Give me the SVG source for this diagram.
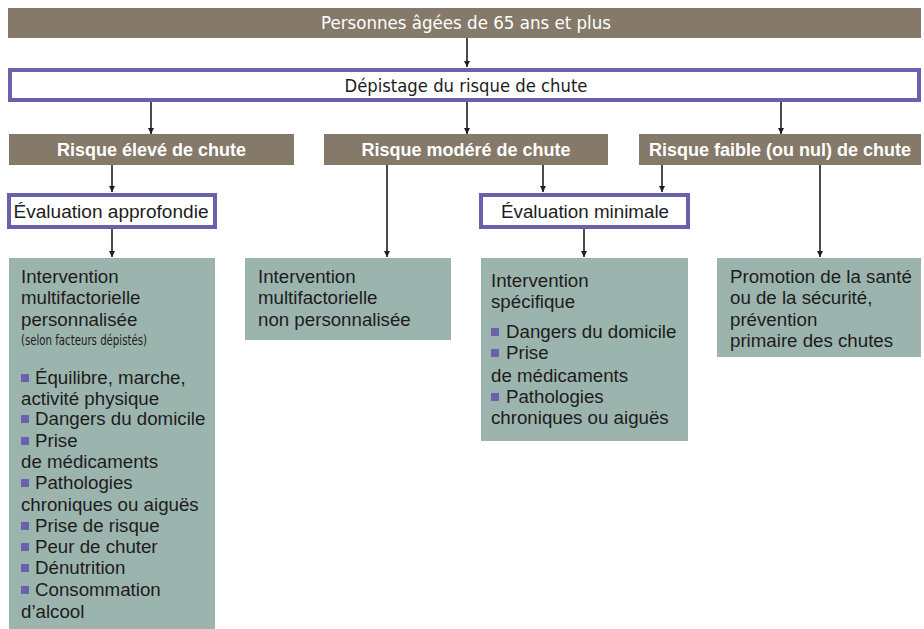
<svg xmlns="http://www.w3.org/2000/svg" width="924" height="629" viewBox="0 0 924 629">
<style>
.brown{fill:#857a69}
.green{fill:#9cb4ae}
.frame{fill:#fff;stroke:#6a61ad;stroke-width:4}
.cond{font-family:"Liberation Sans Narrow","DejaVu Sans Condensed","Liberation Sans",sans-serif;font-stretch:condensed;font-size:18px}
.head{font-family:"Liberation Sans",Arial,sans-serif;font-weight:bold;font-size:18px;fill:#fff}
.body{font-family:"Liberation Sans",Arial,sans-serif;font-size:18.7px;fill:#1c1c1c}
.small{font-family:"Liberation Sans Narrow","DejaVu Sans Condensed","Liberation Sans",sans-serif;font-stretch:condensed;font-size:14px;fill:#1c1c1c}
.bul{fill:#6a61ad}
.conn line{stroke:#1e1e1e;stroke-width:1.6;fill:none}
</style>
<defs>
<marker id="ah" viewBox="0 0 10 10" refX="10" refY="5" markerWidth="6" markerHeight="6" markerUnits="userSpaceOnUse" orient="auto">
<path d="M0,0 L10,5 L0,10 Z" fill="#1e1e1e"/>
</marker>
</defs>
<rect width="924" height="629" fill="#fff"/>

<g id="connectors" class="conn">
<line x1="467" y1="38" x2="467" y2="67" marker-end="url(#ah)"/>
<line x1="151" y1="102" x2="151" y2="134" marker-end="url(#ah)"/>
<line x1="467" y1="102" x2="467" y2="134" marker-end="url(#ah)"/>
<line x1="781" y1="102" x2="781" y2="134" marker-end="url(#ah)"/>
<line x1="112" y1="165" x2="112" y2="192" marker-end="url(#ah)"/>
<line x1="112" y1="229" x2="112" y2="257" marker-end="url(#ah)"/>
<line x1="387" y1="165" x2="387" y2="257" marker-end="url(#ah)"/>
<line x1="543" y1="165" x2="543" y2="192" marker-end="url(#ah)"/>
<line x1="662" y1="165" x2="662" y2="192" marker-end="url(#ah)"/>
<line x1="584" y1="229" x2="584" y2="257" marker-end="url(#ah)"/>
<line x1="820" y1="165" x2="820" y2="257" marker-end="url(#ah)"/>
</g>

<g id="personnes">
<rect class="brown" x="8" y="8" width="913" height="30"/>
<text class="cond" x="466" y="29" text-anchor="middle" fill="#fff" textLength="290" lengthAdjust="spacingAndGlyphs">Personnes âgées de 65 ans et plus</text>
</g>

<g id="depistage">
<rect class="frame" x="10" y="70" width="909" height="30"/>
<text class="cond" x="466" y="92" text-anchor="middle" fill="#1c1c1c" textLength="243" lengthAdjust="spacingAndGlyphs">Dépistage du risque de chute</text>
</g>

<g id="risque-eleve">
<rect class="brown" x="9" y="134" width="285" height="31"/>
<text class="head" x="151.5" y="156" text-anchor="middle">Risque élevé de chute</text>
</g>
<g id="risque-modere">
<rect class="brown" x="324" y="134" width="284" height="31"/>
<text class="head" x="466" y="156" text-anchor="middle">Risque modéré de chute</text>
</g>
<g id="risque-faible">
<rect class="brown" x="639" y="134" width="282" height="31"/>
<text class="head" x="780" y="156" text-anchor="middle">Risque faible (ou nul) de chute</text>
</g>

<g id="eval-approfondie">
<rect class="frame" x="9" y="195" width="206" height="32"/>
<text class="body" x="111" y="218" text-anchor="middle" textLength="195" lengthAdjust="spacingAndGlyphs">Évaluation approfondie</text>
</g>
<g id="eval-minimale">
<rect class="frame" x="481" y="195" width="207" height="32"/>
<text class="body" x="585" y="218" text-anchor="middle" textLength="168" lengthAdjust="spacingAndGlyphs">Évaluation minimale</text>
</g>

<g id="intervention-personnalisee">
<rect class="green" x="9" y="258" width="206" height="371"/>
<text class="body">
<tspan x="21" y="283">Intervention</tspan>
<tspan x="21" y="304">multifactorielle</tspan>
<tspan x="21" y="326">personnalisée</tspan>
</text>
<text class="small" x="21" y="345" textLength="126" lengthAdjust="spacingAndGlyphs">(selon facteurs dépistés)</text>
<rect class="bul" x="21" y="374" width="8" height="8"/>
<rect class="bul" x="21" y="415" width="8" height="8"/>
<rect class="bul" x="21" y="437" width="8" height="8"/>
<rect class="bul" x="21" y="479" width="8" height="8"/>
<rect class="bul" x="21" y="522" width="8" height="8"/>
<rect class="bul" x="21" y="543" width="8" height="8"/>
<rect class="bul" x="21" y="564" width="8" height="8"/>
<rect class="bul" x="21" y="586" width="8" height="8"/>
<text class="body">
<tspan x="35" y="384">Équilibre, marche,</tspan>
<tspan x="21" y="405">activité physique</tspan>
<tspan x="35" y="425">Dangers du domicile</tspan>
<tspan x="35" y="447">Prise</tspan>
<tspan x="21" y="468">de médicaments</tspan>
<tspan x="35" y="489">Pathologies</tspan>
<tspan x="21" y="511">chroniques ou aiguës</tspan>
<tspan x="35" y="532">Prise de risque</tspan>
<tspan x="35" y="553">Peur de chuter</tspan>
<tspan x="35" y="574">Dénutrition</tspan>
<tspan x="35" y="596">Consommation</tspan>
<tspan x="21" y="618">d’alcool</tspan>
</text>
</g>

<g id="intervention-non-personnalisee">
<rect class="green" x="245" y="258" width="206" height="82"/>
<text class="body">
<tspan x="258" y="283">Intervention</tspan>
<tspan x="258" y="304">multifactorielle</tspan>
<tspan x="258" y="326">non personnalisée</tspan>
</text>
</g>

<g id="intervention-specifique">
<rect class="green" x="481" y="258" width="207" height="183"/>
<text class="body">
<tspan x="491" y="287">Intervention</tspan>
<tspan x="491" y="308">spécifique</tspan>
</text>
<rect class="bul" x="491" y="328" width="8" height="8"/>
<rect class="bul" x="491" y="349" width="8" height="8"/>
<rect class="bul" x="491" y="393" width="8" height="8"/>
<text class="body">
<tspan x="506" y="338">Dangers du domicile</tspan>
<tspan x="506" y="359">Prise</tspan>
<tspan x="491" y="382">de médicaments</tspan>
<tspan x="506" y="403">Pathologies</tspan>
<tspan x="491" y="424">chroniques ou aiguës</tspan>
</text>
</g>

<g id="promotion">
<rect class="green" x="717" y="258" width="204" height="99"/>
<text class="body">
<tspan x="730" y="283">Promotion de la santé</tspan>
<tspan x="730" y="304">ou de la sécurité,</tspan>
<tspan x="730" y="326">prévention</tspan>
<tspan x="730" y="347">primaire des chutes</tspan>
</text>
</g>
</svg>
